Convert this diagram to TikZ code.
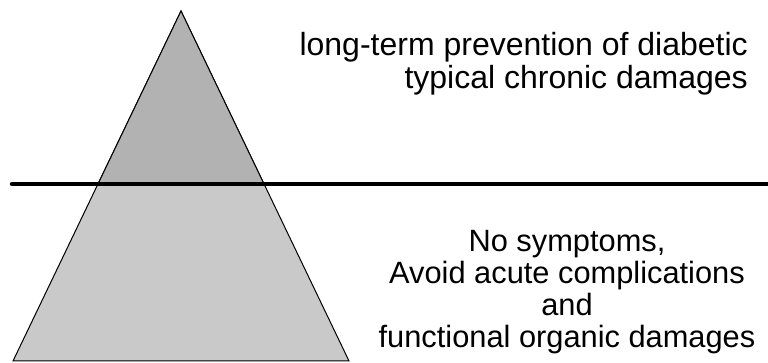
\documentclass[tikz,border=0pt]{standalone}
\usepackage{fontspec}
\setmainfont{Liberation Sans}
\begin{document}
\begin{tikzpicture}[x=1pt,y=1pt,
  lbl/.style={inner sep=0pt},
  upperfill/.style={fill=black!30, draw=black, line width=1pt},
  lowerfill/.style={fill=black!21, draw=black, line width=1pt}]
\useasboundingbox (0,0) rectangle (768,363);
% lower part (whole triangle)
\path[lowerfill] (181,352) -- (13,2) -- (349,2) -- cycle;
% upper part
\path[upperfill] (181,352) -- (98,179) -- (264,179) -- cycle;
% separator line
\coordinate (l1) at (12,179);
\coordinate (l2) at (768,179);
\draw[line width=4.5pt, line cap=round] (l1) -- (l2);
\node[lbl, anchor=east, align=right, font=\fontsize{32}{33}\selectfont] (top) at (748,299) {long-term prevention of diabetic\\typical chronic damages};
\node[lbl, anchor=center, align=center, font=\fontsize{30.8}{32}\selectfont] (bottom) at (567,71) {No symptoms,\\Avoid acute complications\\and\\functional organic damages};
\end{tikzpicture}
\end{document}
